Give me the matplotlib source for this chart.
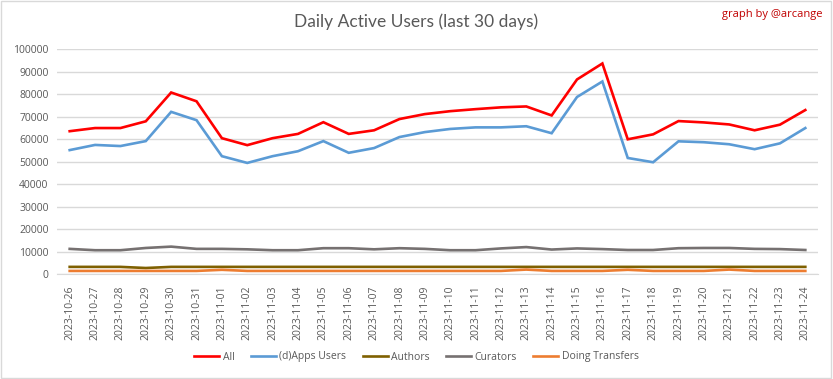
import matplotlib
matplotlib.use("Agg")
import matplotlib.pyplot as plt
from matplotlib.patches import Rectangle

dates = ["2023-10-26", "2023-10-27", "2023-10-28", "2023-10-29", "2023-10-30", "2023-10-31",
         "2023-11-01", "2023-11-02", "2023-11-03", "2023-11-04", "2023-11-05", "2023-11-06",
         "2023-11-07", "2023-11-08", "2023-11-09", "2023-11-10", "2023-11-11", "2023-11-12",
         "2023-11-13", "2023-11-14", "2023-11-15", "2023-11-16", "2023-11-17", "2023-11-18",
         "2023-11-19", "2023-11-20", "2023-11-21", "2023-11-22", "2023-11-23", "2023-11-24"]

all_users = [63600, 65000, 65000, 68000, 80800, 76900, 60500, 57400, 60500, 62400,
             67600, 62400, 64000, 69000, 71200, 72500, 73400, 74200, 74600, 70600,
             86600, 93700, 60000, 62200, 68100, 67500, 66600, 64000, 66500, 73000]
apps_users = [55200, 57500, 57000, 59200, 72200, 68500, 52500, 49500, 52500, 54700,
              59200, 54000, 56100, 61000, 63200, 64600, 65300, 65300, 65800, 62700,
              78800, 85700, 51700, 49800, 59100, 58700, 57800, 55600, 58200, 65000]
authors = [3300, 3300, 3300, 2800, 3300, 3300, 3300, 3300, 3300, 3300,
           3300, 3300, 3300, 3300, 3300, 3300, 3300, 3300, 3300, 3300,
           3300, 3300, 3300, 3300, 3300, 3300, 3300, 3300, 3300, 3300]
curators = [11300, 10700, 10700, 11700, 12300, 11300, 11300, 11100, 10700, 10700,
            11600, 11600, 11100, 11600, 11300, 10700, 10700, 11500, 12100, 11000,
            11500, 11200, 10800, 10800, 11600, 11700, 11700, 11300, 11200, 10800]
transfers = [1500, 1500, 1500, 1500, 1500, 1500, 2000, 1500, 1500, 1500,
             1500, 1500, 1500, 1500, 1500, 1500, 1500, 1500, 2100, 1500,
             1500, 1500, 2000, 1500, 1500, 1500, 2100, 1500, 1500, 1500]

series = [("All", all_users, "#FF0000"),
          ("(d)Apps Users", apps_users, "#5B9BD5"),
          ("Authors", authors, "#7F6000"),
          ("Curators", curators, "#767171"),
          ("Doing Transfers", transfers, "#ED7D31")]

plt.rcParams['font.family'] = ['Open Sans', 'DejaVu Sans']

fig = plt.figure(figsize=(8.33, 3.79), dpi=100)
ax = fig.add_axes([57/833, 1 - 274.3/379, (818-57)/833, (274.3-49.3)/379])

x = list(range(len(dates)))
for name, vals, col in series:
    ax.plot(x, vals, color=col, lw=1.9, label=name, solid_joinstyle='miter')

ax.set_xlim(-0.5, len(dates) - 0.5)
ax.set_ylim(0, 100000)
ax.set_yticks(range(0, 100001, 10000))
ax.set_yticklabels([str(v) for v in range(0, 100001, 10000)])
ax.set_xticks(x)
ax.set_xticklabels(dates, rotation=90)
ax.tick_params(axis='both', length=0, labelsize=7.5, colors='#595959')
ax.tick_params(axis='y', pad=6)
ax.tick_params(axis='x', pad=8)
ax.grid(axis='y', color='#D9D9D9', lw=1)
ax.set_axisbelow(True)
for s in ['left', 'right', 'top']:
    ax.spines[s].set_visible(False)
ax.spines['bottom'].set_color('#D9D9D9')

fig.text(0.5, 1 - 22/379, "Daily Active Users (last 30 days)", ha='center', va='center',
         fontsize=12.5, color='#595959', family=['Lato', 'DejaVu Sans'])
fig.text(822/833, 1 - 15/379, "graph by @arcange", ha='right', va='center',
         fontsize=8, color='#C00000')

leg = fig.legend(loc='center', bbox_to_anchor=(0.5, 1 - 357/379), ncol=5, frameon=False,
                 fontsize=7.5, handlelength=2.4, columnspacing=1.6, handletextpad=0.3)
for t in leg.get_texts():
    t.set_color('#595959')

fig.patches.append(Rectangle((0.001, 0.002), 0.997, 0.995, transform=fig.transFigure,
                             fill=False, edgecolor='#D9D9D9', lw=1))

fig.savefig("out.png", dpi=100, facecolor='white')
